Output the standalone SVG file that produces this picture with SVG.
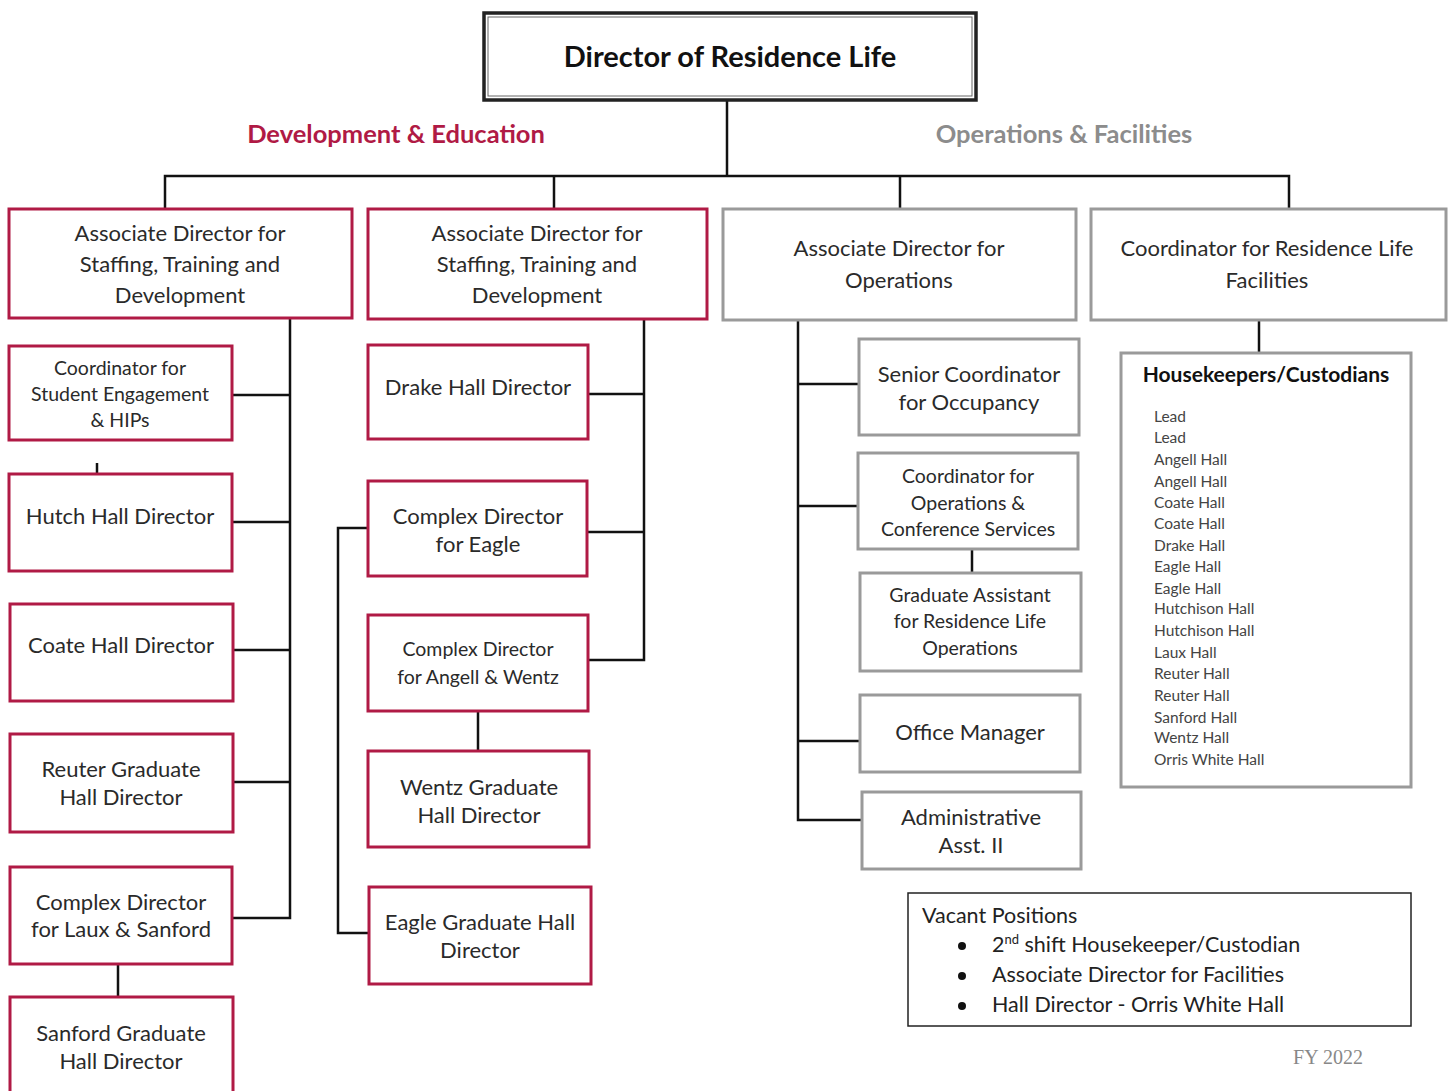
<svg xmlns="http://www.w3.org/2000/svg" width="1452" height="1091" viewBox="0 0 1452 1091">
<style>
text{font-family:Lato,"Open Sans","Liberation Sans",sans-serif;fill:#2a2a2a;text-anchor:middle}
.r{fill:#fff;stroke:#b01a45;stroke-width:3}
.g{fill:#fff;stroke:#9a9a9a;stroke-width:3}
.t{font-size:22px}
.s{font-size:19.5px}
.c{fill:none;stroke:#111;stroke-width:2.5}
.hk{font-size:15.5px;text-anchor:start;fill:#444}
.vp{font-size:21.5px;text-anchor:start;fill:#222}
.head{font-size:25.5px;font-weight:bold}
</style>
<rect width="1452" height="1091" fill="#fff"/>
<g id="connectors">
<path class="c" d="M727 101V176M165 208V176H1289V208M554 176V208M900 176V208"/>
<path class="c" d="M290 318V918H233M233 395H290M233 522H290M234 650H290M234 782H290M118 965V996"/>
<path class="c" d="M97 463V484" stroke-width="1.5"/>
<path class="c" d="M644 320V660H589M589 394H644M588 532H644M478 712V750M367 528H338V933H368"/>
<path class="c" d="M798 321V820H861M798 384H858M798 506H857M798 741H859M972 550V572"/>
<path class="c" d="M1259 321V352"/>
</g>
<g id="director">
<rect x="484" y="13" width="492" height="87" fill="#fff" stroke="#222" stroke-width="3.5"/>
<rect x="488" y="17" width="484" height="79" fill="none" stroke="#666" stroke-width="1"/>
<text x="730" y="67" style="font-size:29px;font-weight:bold;fill:#111">Director of Residence Life</text>
</g>
<g id="label-dev"><text class="head" x="396" y="143" style="fill:#b01a45">Development &amp; Education</text></g>
<g id="label-ops"><text class="head" x="1064" y="143" style="fill:#8c8c8c">Operations &amp; Facilities</text></g>
<g id="assoc-staffing-1">
<rect class="r" x="9" y="209" width="343" height="109"/>
<text class="t" x="180" y="241">Associate Director for</text>
<text class="t" x="180" y="272">Staffing, Training and</text>
<text class="t" x="180" y="303">Development</text>
</g>
<g id="assoc-staffing-2">
<rect class="r" x="368" y="209" width="339" height="110"/>
<text class="t" x="537" y="241">Associate Director for</text>
<text class="t" x="537" y="272">Staffing, Training and</text>
<text class="t" x="537" y="303">Development</text>
</g>
<g id="assoc-ops">
<rect class="g" x="723" y="209" width="353" height="111"/>
<text class="t" x="899" y="256">Associate Director for</text>
<text class="t" x="899" y="288">Operations</text>
</g>
<g id="coord-facilities">
<rect class="g" x="1091" y="209" width="355" height="111"/>
<text class="t" x="1267" y="256">Coordinator for Residence Life</text>
<text class="t" x="1267" y="288">Facilities</text>
</g>
<g id="coord-engagement">
<rect class="r" x="9" y="346" width="223" height="94"/>
<text class="s" x="120" y="375">Coordinator for</text>
<text class="s" x="120" y="401">Student Engagement</text>
<text class="s" x="120" y="427">&amp; HIPs</text>
</g>
<g id="hutch">
<rect class="r" x="9" y="474" width="223" height="97"/>
<text class="t" x="120" y="524">Hutch Hall Director</text>
</g>
<g id="coate">
<rect class="r" x="10" y="604" width="223" height="97"/>
<text class="t" x="121" y="653">Coate Hall Director</text>
</g>
<g id="reuter">
<rect class="r" x="10" y="734" width="223" height="98"/>
<text class="t" x="121" y="777">Reuter Graduate</text>
<text class="t" x="121" y="805">Hall Director</text>
</g>
<g id="complex-laux">
<rect class="r" x="10" y="867" width="222" height="97"/>
<text class="t" x="121" y="910">Complex Director</text>
<text class="t" x="121" y="937">for Laux &amp; Sanford</text>
</g>
<g id="sanford">
<rect class="r" x="10" y="997" width="223" height="100"/>
<text class="t" x="121" y="1041">Sanford Graduate</text>
<text class="t" x="121" y="1069">Hall Director</text>
</g>
<g id="drake">
<rect class="r" x="368" y="345" width="220" height="94"/>
<text class="t" x="478" y="395">Drake Hall Director</text>
</g>
<g id="complex-eagle">
<rect class="r" x="368" y="481" width="219" height="95"/>
<text class="t" x="478" y="524">Complex Director</text>
<text class="t" x="478" y="552">for Eagle</text>
</g>
<g id="complex-angell">
<rect class="r" x="368" y="615" width="220" height="96"/>
<text class="s" x="478" y="656">Complex Director</text>
<text class="s" x="478" y="684">for Angell &amp; Wentz</text>
</g>
<g id="wentz">
<rect class="r" x="368" y="751" width="221" height="96"/>
<text class="t" x="479" y="795">Wentz Graduate</text>
<text class="t" x="479" y="823">Hall Director</text>
</g>
<g id="eagle-grad">
<rect class="r" x="369" y="887" width="222" height="97"/>
<text class="t" x="480" y="930">Eagle Graduate Hall</text>
<text class="t" x="480" y="958">Director</text>
</g>
<g id="senior-occupancy">
<rect class="g" x="859" y="339" width="220" height="96"/>
<text class="t" x="969" y="382">Senior Coordinator</text>
<text class="t" x="969" y="410">for Occupancy</text>
</g>
<g id="coord-operations">
<rect class="g" x="858" y="453" width="220" height="96"/>
<text class="s" x="968" y="483">Coordinator for</text>
<text class="s" x="968" y="510">Operations &amp;</text>
<text class="s" x="968" y="536">Conference Services</text>
</g>
<g id="grad-assistant">
<rect class="g" x="860" y="573" width="221" height="98"/>
<text class="s" x="970" y="602">Graduate Assistant</text>
<text class="s" x="970" y="628">for Residence Life</text>
<text class="s" x="970" y="655">Operations</text>
</g>
<g id="office-manager">
<rect class="g" x="860" y="695" width="220" height="77"/>
<text class="t" x="970" y="740">Office Manager</text>
</g>
<g id="admin-asst">
<rect class="g" x="862" y="792" width="219" height="77"/>
<text class="t" x="971" y="825">Administrative</text>
<text class="t" x="971" y="853">Asst. II</text>
</g>
<g id="housekeepers">
<rect class="g" x="1121" y="353" width="290" height="434"/>
<text x="1266" y="382" style="font-size:21px;font-weight:bold;fill:#111">Housekeepers/Custodians</text>
<text class="hk" x="1154" y="422">Lead</text>
<text class="hk" x="1154" y="443">Lead</text>
<text class="hk" x="1154" y="465">Angell Hall</text>
<text class="hk" x="1154" y="487">Angell Hall</text>
<text class="hk" x="1154" y="508">Coate Hall</text>
<text class="hk" x="1154" y="529">Coate Hall</text>
<text class="hk" x="1154" y="551">Drake Hall</text>
<text class="hk" x="1154" y="572">Eagle Hall</text>
<text class="hk" x="1154" y="594">Eagle Hall</text>
<text class="hk" x="1154" y="614">Hutchison Hall</text>
<text class="hk" x="1154" y="636">Hutchison Hall</text>
<text class="hk" x="1154" y="658">Laux Hall</text>
<text class="hk" x="1154" y="679">Reuter Hall</text>
<text class="hk" x="1154" y="701">Reuter Hall</text>
<text class="hk" x="1154" y="723">Sanford Hall</text>
<text class="hk" x="1154" y="743">Wentz Hall</text>
<text class="hk" x="1154" y="765">Orris White Hall</text>
</g>
<g id="vacant">
<rect x="908" y="893" width="503" height="133" fill="#fff" stroke="#222" stroke-width="1.5"/>
<text class="vp" x="922" y="923">Vacant Positions</text>
<circle cx="962" cy="946" r="4" fill="#111"/>
<circle cx="962" cy="976" r="4" fill="#111"/>
<circle cx="962" cy="1006" r="4" fill="#111"/>
<text class="vp" x="992" y="952">2<tspan style="font-size:13px" dy="-8">nd</tspan><tspan dy="8"> shift Housekeeper/Custodian</tspan></text>
<text class="vp" x="992" y="982">Associate Director for Facilities</text>
<text class="vp" x="992" y="1012">Hall Director - Orris White Hall</text>
</g>
<g id="fy"><text x="1328" y="1064" style="font-family:'Liberation Serif',serif;font-size:20px;fill:#888">FY 2022</text></g>
</svg>
